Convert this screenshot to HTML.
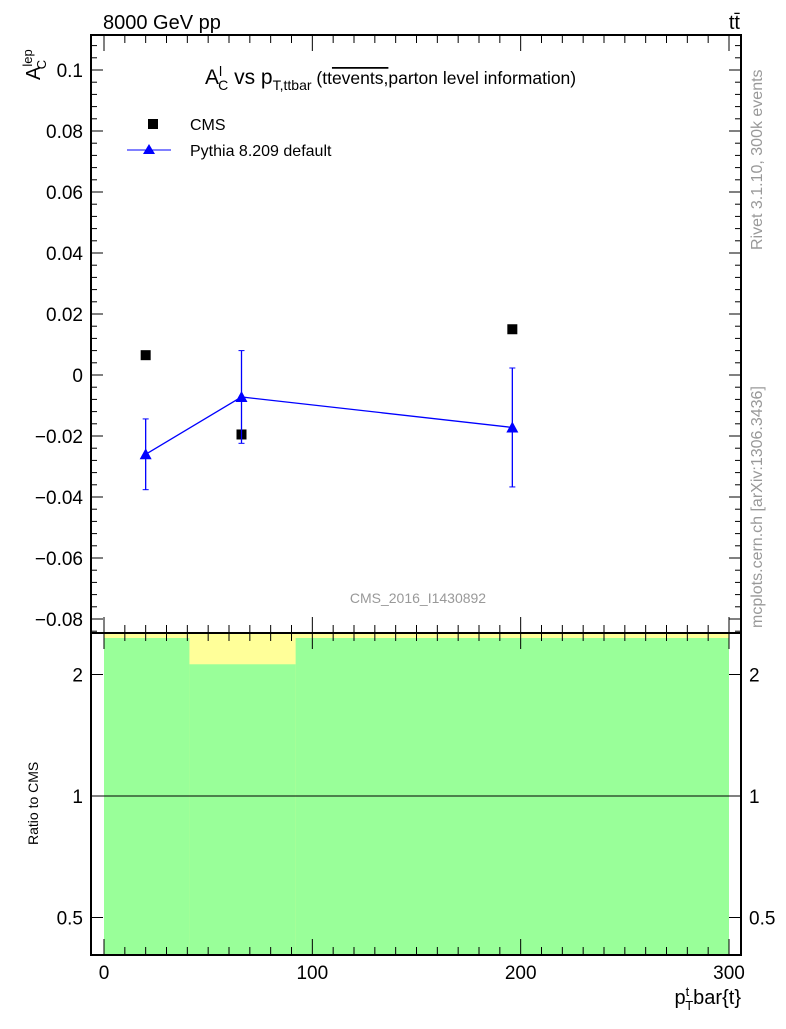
<!DOCTYPE html>
<html><head><meta charset="utf-8"><style>
body{margin:0;background:#fff;width:786px;height:1024px;overflow:hidden}
svg{font-family:"Liberation Sans",sans-serif}
</style></head><body>
<svg id="c" width="786" height="1024" xmlns="http://www.w3.org/2000/svg">
<text x="103" y="29" font-size="20">8000 GeV pp</text>
<text x="740" y="29" font-size="20" text-anchor="end">tt̄</text>
<text x="205" y="84" font-size="21">A<tspan font-size="14" dy="-8">l</tspan><tspan font-size="14" dx="-4" dy="14">C</tspan><tspan dy="-6"> vs p</tspan><tspan font-size="14" dy="6">T,ttbar</tspan><tspan font-size="17.5" dy="-6"> (tt</tspan><tspan font-size="17.5" text-decoration="overline">events,</tspan><tspan font-size="17.5">parton level information)</tspan></text>
<text x="418" y="603" font-size="14" fill="#999" text-anchor="middle">CMS_2016_I1430892</text>
<text transform="translate(762,250) rotate(-90)" font-size="16" fill="#999">Rivet 3.1.10,  300k events</text>
<text transform="translate(762,628) rotate(-90)" font-size="16" fill="#999">mcplots.cern.ch [arXiv:1306.3436]</text>
<text transform="translate(40,80) rotate(-90)" font-size="20">A<tspan font-size="13" dy="-8">lep</tspan><tspan font-size="13" dx="-20" dy="14">C</tspan></text>
<text transform="translate(38,845) rotate(-90)" font-size="14">Ratio to CMS</text>
<text x="741" y="1004" font-size="20" text-anchor="end">p<tspan font-size="13" dy="-8">t</tspan><tspan font-size="13" dx="-4" dy="14">T</tspan><tspan dy="-6">bar{t}</tspan></text>
<g>
<rect x="148" y="119" width="10" height="10" fill="#000"/>
<text x="190" y="130" font-size="16">CMS</text>
<line x1="127" y1="150" x2="171" y2="150" stroke="#00f"/>
<polygon points="149,144 143,154 155,154" fill="#00f"/>
<text x="190" y="156" font-size="16">Pythia 8.209 default</text>
</g>
<g id="g"></g>
</svg>
<script>
const xCenters=[20,66,196];
const cmsValues=[0.0065,-0.0195,0.015];
const pythiaValues=[-0.026,-0.0072,-0.0172];
const pythiaErr=[0.0116,0.0152,0.0195];
const yTicks=[-0.08,-0.06,-0.04,-0.02,0,0.02,0.04,0.06,0.08,0.1];
const yTickLabels=["−0.08","−0.06","−0.04","−0.02","0","0.02","0.04","0.06","0.08","0.1"];
const xTicks=[0,100,200,300];
const rTicks=[0.5,1,2];
const bandEdges=[0,41,92,300];
const bandLow=[0.4,2.12,0.4];
const L=91,R=741,T=35,M=633,B=955;
const X=v=>104+(v)*625/300;
const Y=v=>375-v*3050;
const RY=v=>796-Math.log2(v)*121.5;
const g=document.getElementById('g');
const NS='http://www.w3.org/2000/svg';
function mk(t,a,n){const e=document.createElementNS(NS,t);for(const k in a)e.setAttribute(k,a[k]);


g.appendChild(e);return e;}
mk('rect',{x:X(0),y:M,width:X(300)-X(0),height:B-M,fill:'#ffff99'},'ratio-yellow-band');
for(let i=0;i<3;i++){const top=i==1?RY(bandLow[i]):M+5;
mk('rect',{x:X(bandEdges[i]),y:top,width:X(bandEdges[i+1])-X(bandEdges[i]),height:B-top,fill:'#99ff99'},'ratio-green-band');}
mk('line',{x1:L,x2:R,y1:RY(1),y2:RY(1),stroke:'#000'},'ratio-reference-line');
mk('rect',{x:L,y:T,width:R-L,height:M-T,fill:'none',stroke:'#000','stroke-width':2},'main-frame');
mk('rect',{x:L,y:M,width:R-L,height:B-M,fill:'none',stroke:'#000','stroke-width':2},'ratio-frame');
for(let i=0;i<yTicks.length;i++){const y=Y(yTicks[i]);
mk('line',{x1:L,x2:L+12,y1:y,y2:y,stroke:'#000'},'y-tick');
mk('line',{x1:R,x2:R-12,y1:y,y2:y,stroke:'#000'},'y-tick-right');
const t=mk('text',{x:L-8,y:y+7,'font-size':19,'text-anchor':'end'},'y-tick-label');t.textContent=yTickLabels[i];}
for(let v=-0.084;v<=0.111;v+=0.004){const y=Y(v);if(y<T||y>M)continue;
mk('line',{x1:L,x2:L+6,y1:y,y2:y,stroke:'#000'},'y-minor-tick');
mk('line',{x1:R,x2:R-6,y1:y,y2:y,stroke:'#000'},'y-minor-tick-right');}
for(const r of rTicks){const y=RY(r);
mk('line',{x1:L,x2:L+12,y1:y,y2:y,stroke:'#000'},'ratio-tick');
mk('line',{x1:R,x2:R-12,y1:y,y2:y,stroke:'#000'},'ratio-tick-right');
let t=mk('text',{x:L-8,y:y+7,'font-size':19,'text-anchor':'end'},'ratio-tick-label');t.textContent=r;
t=mk('text',{x:R+8,y:y+7,'font-size':19},'ratio-tick-label-right');t.textContent=r;}
for(let v=0;v<=300;v+=10){const x=X(v),maj=v%100==0,h=maj?16:8;
mk('line',{x1:x,x2:x,y1:M,y2:M-h,stroke:'#000'},'x-tick');
mk('line',{x1:x,x2:x,y1:M,y2:M+h,stroke:'#000'},'x-tick');
mk('line',{x1:x,x2:x,y1:T,y2:T+h,stroke:'#000'},'x-tick');
mk('line',{x1:x,x2:x,y1:B,y2:B-h,stroke:'#000'},'x-tick');}
for(const v of xTicks){const t=mk('text',{x:X(v),y:979,'font-size':19,'text-anchor':'middle'},'x-tick-label');t.textContent=v;}
cmsValues.forEach((v,i)=>mk('rect',{x:X(xCenters[i])-5,y:Y(v)-5,width:10,height:10,fill:'#000'},'cms-point'));
mk('polyline',{points:pythiaValues.map((v,i)=>X(xCenters[i])+','+Y(v)).join(' '),fill:'none',stroke:'#00f','stroke-width':1.3},'pythia-line');
pythiaValues.forEach((v,i)=>{const x=X(xCenters[i]);
mk('line',{x1:x,x2:x,y1:Y(v-pythiaErr[i]),y2:Y(v+pythiaErr[i]),stroke:'#00f','stroke-width':1.3},'pythia-error-bar');
mk('line',{x1:x-3,x2:x+3,y1:Y(v-pythiaErr[i]),y2:Y(v-pythiaErr[i]),stroke:'#00f'},'pythia-error-cap');
mk('line',{x1:x-3,x2:x+3,y1:Y(v+pythiaErr[i]),y2:Y(v+pythiaErr[i]),stroke:'#00f'},'pythia-error-cap');
const y=Y(v);mk('polygon',{points:`${x},${y-6} ${x-6},${y+5} ${x+6},${y+5}`,fill:'#00f'},'pythia-point');});
</script>
</body></html>
